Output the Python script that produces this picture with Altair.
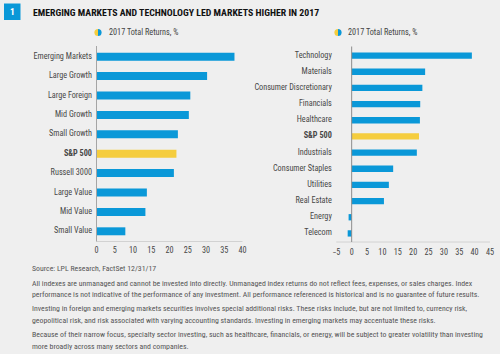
import altair as alt
import pandas as pd

# ---------------- data ----------------
left_cats = ["Emerging Markets", "Large Growth", "Large Foreign", "Mid Growth", "Small Growth",
             "S&P 500", "Russell 3000", "Large Value", "Mid Value", "Small Value"]
left_vals = [37.8, 30.3, 25.7, 25.3, 22.3, 21.9, 21.2, 13.8, 13.4, 7.9]

right_cats = ["Technology", "Materials", "Consumer Discretionary", "Financials", "Healthcare",
              "S&P 500", "Industrials", "Consumer Staples", "Utilities", "Real Estate",
              "Energy", "Telecom"]
right_vals = [39.1, 23.9, 23.0, 22.3, 22.2, 21.9, 21.2, 13.5, 12.1, 10.5, -1.0, -1.3]

left_ticks = [0, 5, 10, 15, 20, 25, 30, 35, 40]
right_ticks = [-5, 0, 5, 10, 15, 20, 25, 30, 35, 40, 45]

title_text = "EMERGING MARKETS AND TECHNOLOGY LED MARKETS HIGHER IN 2017"
badge_text = "1"
legend_text = "2017 Total Returns, %"
source_text = "Source: LPL Research, FactSet   12/31/17"
footer_lines = [
    "All indexes are unmanaged and cannot be invested into directly. Unmanaged index returns do not reflect fees, expenses, or sales charges. Index",
    "performance is not indicative of the performance of any investment. All performance referenced is historical and is no guarantee of future results.",
    "Investing in foreign and emerging markets securities involves special additional risks. These risks include, but are not limited to, currency risk,",
    "geopolitical risk, and risk associated with varying accounting standards. Investing in emerging markets may accentuate these risks.",
    "Because of their narrow focus, specialty sector investing, such as healthcare, financials, or energy, will be subject to greater volatility than investing",
    "more broadly across many sectors and companies.",
]

# ---------------- style ----------------
FONT = "Roboto Condensed, DejaVu Sans Condensed, sans-serif"
BLUE = "#0a98d8"
YELLOW = "#f5cd3e"
BG = "#efefef"
W, H = 500, 354
LBL = 8.2
LBL_COLOR = "#474747"

left_df = pd.DataFrame({"cat": left_cats, "val": left_vals})
right_df = pd.DataFrame({"cat": right_cats, "val": right_vals})


def panel(df, cats, ticks, xrange, yrange, pad, ax_off, zero_color, tick_y):
    lo, hi = ticks[0], ticks[-1]
    xs = alt.Scale(domain=[lo, hi], range=xrange, nice=False, zero=False)
    ys = alt.Scale(domain=cats, range=yrange, paddingInner=pad, paddingOuter=pad / 2)
    bars = alt.Chart(df).mark_bar().encode(
        y=alt.Y("cat:N", scale=ys, sort=cats, title=None,
                axis=alt.Axis(orient="left", offset=-ax_off, domain=False, ticks=False,
                              labelPadding=5, labelFont=FONT, labelFontSize=LBL,
                              labelColor=LBL_COLOR, labelLimit=200,
                              labelFontWeight=alt.expr("datum.value == 'S&P 500' ? 'bold' : 'normal'"))),
        x=alt.X("val:Q", scale=xs, title=None, axis=None),
        x2=alt.datum(0),
        color=alt.condition(alt.datum.cat == "S&P 500", alt.value(YELLOW), alt.value(BLUE)),
    )
    base_line = alt.Chart(pd.DataFrame({"z": [0]})).mark_rule(color="#d2d2d2", strokeWidth=1).encode(
        x=alt.X("lo:Q", scale=xs, axis=None), x2="hi:Q",
        y=alt.value(yrange[1] + 0.5),
    ).transform_calculate(lo=str(lo), hi=str(hi))
    zero = alt.Chart(pd.DataFrame({"z": [0]})).mark_rule(color=zero_color, strokeWidth=1).encode(
        x=alt.X("z:Q", scale=xs, axis=None),
        y=alt.value(yrange[0] - 1),
        y2=alt.value(yrange[1] + 0.5),
    )
    tick_lbls = alt.Chart(pd.DataFrame({"t": ticks})).mark_text(
        font=FONT, fontSize=LBL, color=LBL_COLOR, baseline="middle", align="center"
    ).encode(
        x=alt.X("t:Q", scale=xs, axis=None),
        y=alt.value(tick_y),
        text=alt.Text("t:Q", format="d"),
    )
    return alt.layer(bars, base_line, zero, tick_lbls)


left = panel(left_df, left_cats, left_ticks, [96.5, 242.5], [47, 241], 0.59, 96.5, "#a5a5a5", 251)
right = panel(right_df, right_cats, right_ticks, [336.3, 490], [47.5, 241.5], 0.61, 336.3, "#8c8c8c", 252.5)


def txt(s, x, y, size, weight="normal", color="#555555", align="left", baseline="middle", lh=None):
    kw = dict(font=FONT, fontSize=size, fontWeight=weight, color=color, align=align, baseline=baseline)
    if lh is not None:
        kw.update(lineBreak="\n", lineHeight=lh)
    return alt.Chart(pd.DataFrame({"t": [s]})).mark_text(**kw).encode(
        text="t:N", x=alt.value(x), y=alt.value(y))


def arc(x, y, t0, t1, color):
    return alt.Chart(pd.DataFrame({"a": [0]})).mark_arc(radius=3.6, color=color).encode(
        x=alt.value(x), y=alt.value(y), theta=alt.value(t0), theta2=alt.value(t1))


badge = alt.Chart(pd.DataFrame({"a": [0]})).mark_rect(color=BLUE).encode(
    x=alt.value(4), x2=alt.value(20.5), y=alt.value(3.5), y2=alt.value(20))

PI = 3.14159265
FT = 7.8
annotations = [
    badge,
    txt(badge_text, 12.3, 12, 9.5, "bold", "white", "center"),
    txt(title_text, 33, 12.5, 9.8, "bold", "#111111"),
    arc(98, 32.5, 0, PI, BLUE), arc(98, 32.5, PI, 2 * PI, YELLOW),
    txt(legend_text, 109, 32.5, LBL, color="#444444"),
    arc(338, 32.5, 0, PI, BLUE), arc(338, 32.5, PI, 2 * PI, YELLOW),
    txt(legend_text, 348, 32.5, LBL, color="#444444"),
    txt(source_text, 32, 268.5, FT, color="#555555"),
    txt("\n".join(footer_lines[0:2]), 32, 279.5, FT, color="#555555", baseline="top", lh=11.5),
    txt("\n".join(footer_lines[2:4]), 32, 305, FT, color="#555555", baseline="top", lh=11.5),
    txt("\n".join(footer_lines[4:6]), 32, 331, FT, color="#555555", baseline="top", lh=11.5),
]

chart = alt.layer(left, right, *annotations).resolve_scale(
    x="independent", y="independent"
).resolve_axis(x="independent", y="independent").properties(
    width=W, height=H, padding=0, autosize=alt.AutoSizeParams(type="none"),
    background=BG,
).configure_view(stroke=None)

chart.save("out.html", embed_options={"renderer": "svg", "actions": False})
